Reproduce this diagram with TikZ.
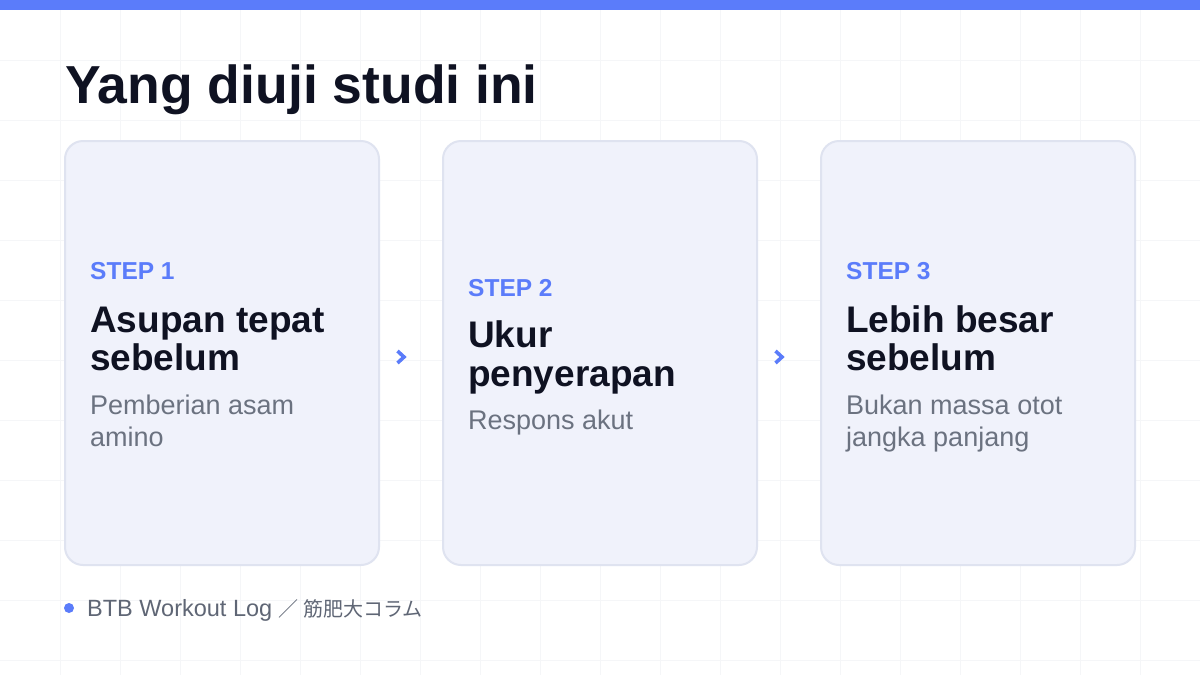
\documentclass[tikz,border=0pt]{standalone}
\usepackage{fontspec}
\setmainfont{Liberation Sans}
\newfontfamily\jpfont{Noto Sans CJK JP}
\usetikzlibrary{calc}
\definecolor{accent}{HTML}{5B7CFA}
\definecolor{ink}{HTML}{0F1222}
\definecolor{muted}{HTML}{6B7280}
\definecolor{cardfill}{HTML}{F0F2FB}
\definecolor{cardline}{HTML}{DFE3F0}
\definecolor{gridc}{HTML}{F5F6F8}
\definecolor{footc}{HTML}{5F6675}
\begin{document}
\begin{tikzpicture}[x=1pt,y=-1pt,
  card/.style={draw=cardline,fill=cardfill,line width=2pt,rounded corners=18pt,minimum width=314pt,minimum height=424pt,inner sep=0pt},
  steplbl/.style={anchor=base west,inner sep=0pt,text=accent,font=\fontsize{24.5}{24.5}\selectfont\bfseries},
  headlbl/.style={anchor=base west,inner sep=0pt,text=ink,font=\fontsize{37}{37}\selectfont\bfseries},
  bodylbl/.style={anchor=base west,inner sep=0pt,text=muted,font=\fontsize{27}{27}\selectfont},
  chev/.style={draw=accent,line width=3.6pt,line join=miter,line cap=butt}]
\useasboundingbox (0,0) rectangle (1200,675);
\fill[white] (0,0) rectangle (1200,675);
\foreach \i in {60,120,...,1140} \draw[gridc,line width=0.8pt] (\i,10) -- (\i,675);
\foreach \j in {60,120,...,660} \draw[gridc,line width=0.8pt] (0,\j) -- (1200,\j);
\fill[accent] (0,0) rectangle (1200,10);
\node[anchor=base west,inner sep=0pt,text=ink,font=\fontsize{53.5}{53.5}\selectfont\bfseries] (title) at (65,103) {Yang diuji studi ini};
\node[card] (c1) at (222,353) {};
\node[card] (c2) at (600,353) {};
\node[card] (c3) at (978,353) {};
% card 1
\node[steplbl] (s1) at (90,279) {STEP 1};
\node[headlbl] (h1a) at (90,332) {Asupan tepat};
\node[headlbl] (h1b) at (90,370) {sebelum};
\node[bodylbl] (b1a) at (90,414) {Pemberian asam};
\node[bodylbl] (b1b) at (90,446) {amino};
% card 2
\node[steplbl] (s2) at (468,296) {STEP 2};
\node[headlbl] (h2a) at (468,347) {Ukur};
\node[headlbl] (h2b) at (468,386) {penyerapan};
\node[bodylbl] (b2a) at (468,429) {Respons akut};
% card 3
\node[steplbl] (s3) at (846,279) {STEP 3};
\node[headlbl] (h3a) at (846,332) {Lebih besar};
\node[headlbl] (h3b) at (846,370) {sebelum};
\node[bodylbl] (b3a) at (846,414) {Bukan massa otot};
\node[bodylbl] (b3b) at (846,446) {jangka panjang};
% chevrons
\coordinate (m1) at ($(c1.east)!0.5!(c2.west)+(-10,4)$);
\coordinate (m2) at ($(c2.east)!0.5!(c3.west)+(-10,4)$);
\draw[chev] ($(m1)+(-3.5,-6)$) -- ($(m1)+(3,0)$) -- ($(m1)+(-3.5,6)$);
\draw[chev] ($(m2)+(-3.5,-6)$) -- ($(m2)+(3,0)$) -- ($(m2)+(-3.5,6)$);
% footer
\fill[accent] (69,608) circle (5);
\node[anchor=base west,inner sep=0pt,text=footc,font=\fontsize{23.5}{23.5}\selectfont] (foot) at (87,616) {BTB Workout Log {\jpfont\fontsize{20}{20}\selectfont ／ 筋肥大コラム}};
\end{tikzpicture}
\end{document}
